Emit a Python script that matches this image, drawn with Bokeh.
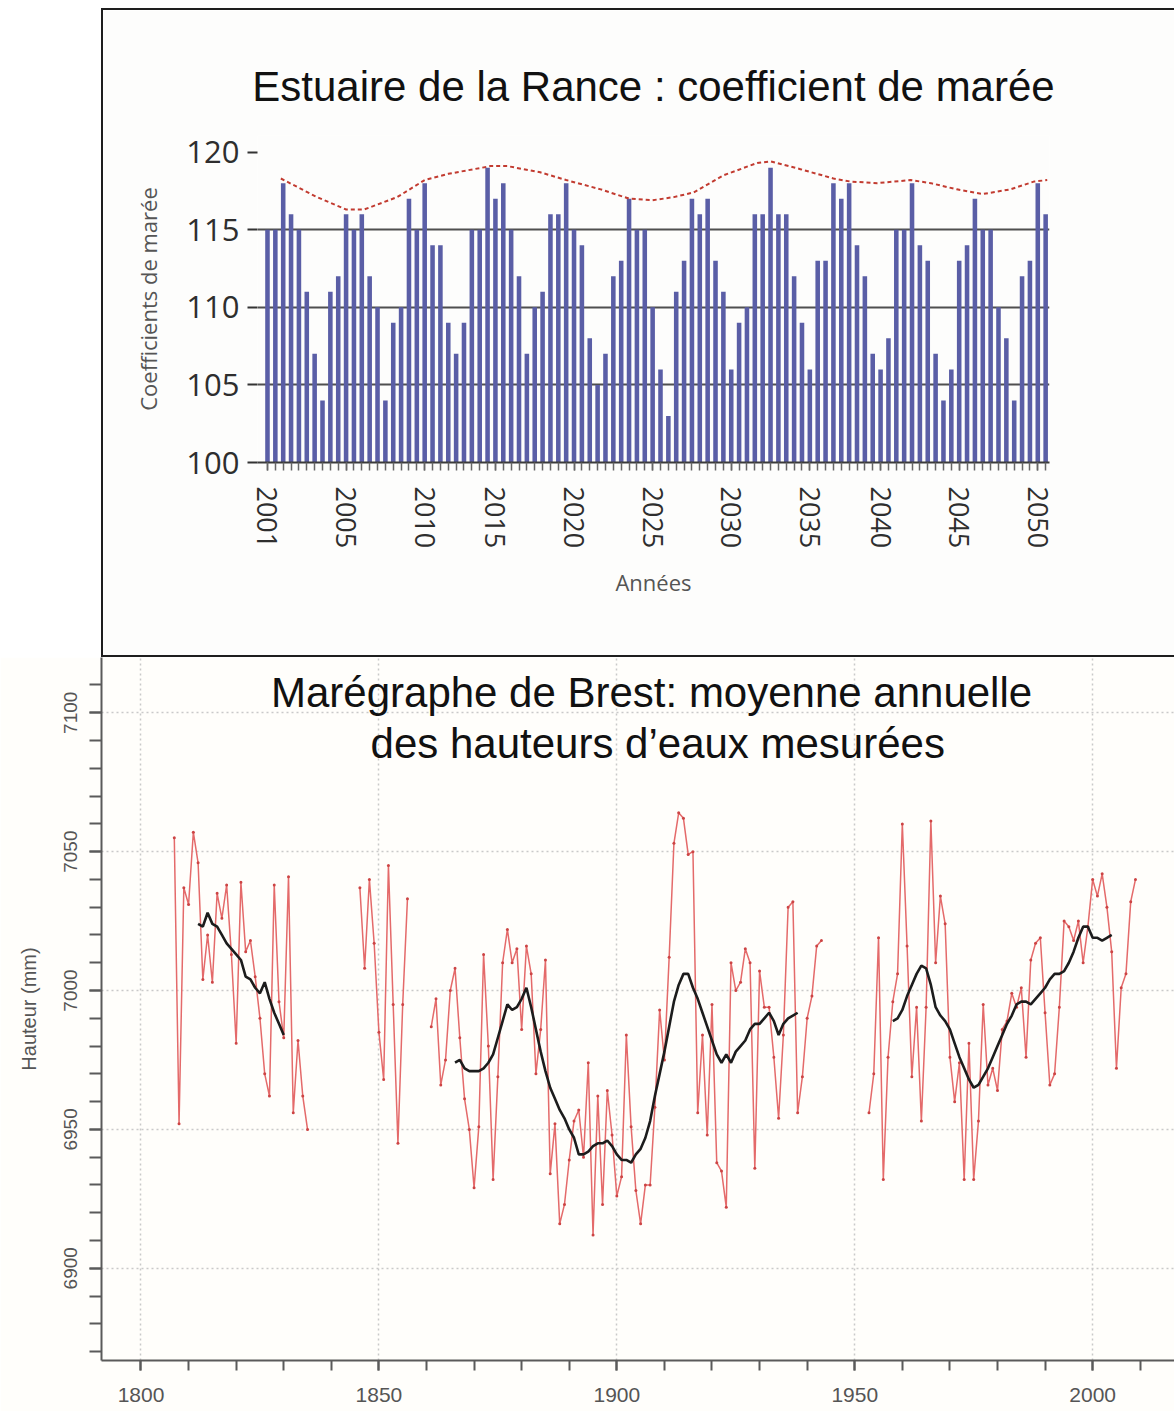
import numpy as np
from bokeh.plotting import figure
from bokeh.layouts import column, row
from bokeh.models import Range1d, FixedTicker, SingleIntervalTicker, Label, Spacer, Title
from bokeh.embed import file_html
from bokeh.resources import INLINE

# ---------------------------------------------------------------------------
# Estuaire de la Rance: the two highest tide coefficients of each year
# ---------------------------------------------------------------------------
coef = [115, 115, 118, 116, 115, 111, 107, 104, 111, 112,
        116, 115, 116, 112, 110, 104, 109, 110, 117, 115,
        118, 114, 114, 109, 107, 109, 115, 115, 119, 117,
        118, 115, 112, 107, 110, 111, 116, 116, 118, 115,
        114, 108, 105, 107, 112, 113, 117, 115, 115, 110,
        106, 103, 111, 113, 117, 116, 117, 113, 111, 106,
        109, 110, 116, 116, 119, 116, 116, 112, 109, 106,
        113, 113, 118, 117, 118, 114, 112, 107, 106, 108,
        115, 115, 118, 114, 113, 107, 104, 106, 113, 114,
        117, 115, 115, 110, 108, 104, 112, 113, 118, 116]
year_labels = ["2001", "2005", "2010", "2015", "2020", "2025",
               "2030", "2035", "2040", "2045", "2050"]

# envelope of the yearly maxima (position counted in bars)
env_pos = [1.7, 6.3, 10.0, 12.3, 16.5, 20.0, 23.0, 28.4, 30.5, 34.7,
           38.0, 42.4, 46.0, 49.0, 51.7, 54.2, 58.0, 62.3, 64.0, 67.8,
           72.0, 74.2, 77.6, 81.8, 84.4, 87.7, 91.0, 94.5, 97.5, 99.2]
env_val = [118.3, 117.1, 116.3, 116.3, 117.1, 118.2, 118.6, 119.1, 119.1, 118.7,
           118.2, 117.6, 117.0, 116.9, 117.1, 117.4, 118.5, 119.3, 119.4, 118.9,
           118.3, 118.1, 118.0, 118.2, 118.0, 117.6, 117.3, 117.6, 118.1, 118.2]

# ---------------------------------------------------------------------------
# Brest tide gauge: annual mean water height (mm), by continuous record
# ---------------------------------------------------------------------------
mean_starts = [1807, 1846, 1861, 1953]
mean_1807 = [7055, 6952, 7037, 7031, 7057, 7046, 7004, 7020, 7003, 7035,
             7026, 7038, 7013, 6981, 7039, 7014, 7018, 7005, 6990, 6970,
             6962, 7038, 6996, 6983, 7041, 6956, 6982, 6962, 6950]
mean_1846 = [7037, 7008, 7040, 7017, 6985, 6968, 7045, 6995, 6945, 6995, 7033]
mean_1861 = [6987, 6997, 6966, 6975, 7000, 7008, 6983, 6961, 6950, 6929,
             6951, 7013, 6980, 6932, 6969, 7010, 7022, 7010, 7015, 6986,
             7016, 7006, 6970, 6986, 7011, 6934, 6952, 6916, 6923, 6939,
             6953, 6957, 6940, 6974, 6912, 6962, 6923, 6964, 6948, 6926,
             6933, 6984, 6951, 6928, 6916, 6930, 6930, 6958, 6993, 6975,
             7012, 7053, 7064,
             7062, 7049, 7050, 6956, 6984, 6948, 6995, 6938, 6935, 6922,
             7010, 7000, 7003, 7015, 7010, 6936, 7007, 6994, 6994, 6976,
             6954, 6984, 7030, 7032, 6956, 6969, 6990, 6998, 7016, 7018]
mean_1953 = [6956, 6970, 7019, 6932, 6976, 6996, 7006, 7060, 7016, 6969,
             6994, 6953, 6994, 7061, 7010, 7034, 7024, 6976, 6960, 6974,
             6932, 6981, 6932, 6953, 6995, 6966, 6972, 6964, 6986, 6989,
             6999, 6994, 7001, 6976, 7011, 7017, 7019, 6992, 6966, 6970,
             6994, 7025, 7023, 7018, 7025, 7010, 7023, 7040, 7034, 7042,
             7030, 7014, 6972, 7001, 7006, 7032, 7040]

# smoothed mean (running average)
smooth_starts = [1812, 1866, 1958]
smooth_1812 = [7024, 7023, 7028, 7024, 7023, 7020, 7017, 7015, 7013, 7011,
               7005, 7004, 7001, 6999, 7003, 6997, 6992, 6988, 6984]
smooth_1866 = [6974, 6975, 6972, 6971, 6971, 6971, 6972, 6974, 6977, 6983,
               6989, 6995, 6993, 6994, 6997, 7001, 6994, 6986, 6978, 6971,
               6965, 6961, 6957, 6954, 6950, 6947, 6941, 6941, 6942, 6944,
               6945, 6945, 6946, 6944, 6941, 6939, 6939, 6938, 6941, 6943,
               6947, 6953, 6962, 6970, 6978, 6987, 6996, 7002,
               7006, 7006, 7001, 6997, 6992, 6987, 6982, 6977, 6974, 6977,
               6974, 6978, 6980, 6982, 6986, 6988, 6988, 6990, 6992, 6989,
               6984, 6988, 6990, 6991, 6992]
smooth_1958 = [6989, 6990, 6993, 6998, 7002, 7006, 7009, 7008, 7002, 6994,
               6991, 6989, 6986, 6981, 6976, 6972, 6968, 6965, 6966, 6969,
               6972, 6976, 6980, 6984, 6988, 6991, 6995, 6996, 6996, 6995,
               6997, 6999, 7001, 7004, 7006, 7006, 7007, 7010, 7014, 7019,
               7023, 7023, 7019, 7019, 7018, 7019, 7020]


def with_gaps(starts, pieces):
    """Chain the records into one x/y pair, broken by NaN between them."""
    xs, ys = [], []
    for s, vals in zip(starts, pieces):
        xs += list(range(s, s + len(vals))) + [np.nan]
        ys += list(vals) + [np.nan]
    return np.array(xs, dtype=float), np.array(ys, dtype=float)


# ---------------------------------------------------------------------------
# Upper panel: bar chart of tide coefficients
# ---------------------------------------------------------------------------
BG = "#fdfdfc"
bar_pos = np.arange(len(coef))
label_idx = np.round(np.linspace(0, len(coef) - 2, len(year_labels))).astype(int)

p1 = figure(width=1071, height=645, output_backend="svg", toolbar_location=None,
            x_range=Range1d(-1.27, 99.49), y_range=Range1d(100, 121.07),
            min_border_left=154, min_border_right=125, min_border_top=125,
            min_border_bottom=193, background_fill_color=BG, border_fill_color=BG,
            outline_line_color=None)
p1.title = Title(text="Estuaire de la Rance : coefficient de marée", align="center",
                 text_font="Liberation Sans", text_font_size="42px",
                 text_font_style="normal", text_color="#111111",
                 standoff=51)

p1.vbar(x=bar_pos, bottom=100, top=coef, width=0.58,
        fill_color="#5a5ea6", line_color=None)
p1.line(env_pos, env_val, line_color="#c23b30", line_width=2, line_dash="4 3")

p1.xgrid.visible = False
p1.ygrid.ticker = FixedTicker(ticks=[105, 110, 115])
p1.ygrid.grid_line_color = "#4f4f4f"
p1.ygrid.grid_line_width = 2

xa = p1.xaxis[0]
xa.ticker = FixedTicker(ticks=[int(i) for i in label_idx], minor_ticks=[int(i) for i in bar_pos])
xa.major_label_overrides = {int(i): s for i, s in zip(label_idx, year_labels)}
xa.major_label_orientation = "vertical"
xa.axis_line_color = "#3a3a3a"
xa.axis_line_width = 2
xa.major_tick_in = 0
xa.major_tick_out = 8
xa.minor_tick_in = 0
xa.minor_tick_out = 8
xa.major_tick_line_color = "#666666"
xa.minor_tick_line_color = "#666666"
xa.major_tick_line_width = 1.5
xa.minor_tick_line_width = 1.5
xa.major_label_standoff = 16
xa.major_label_text_font = "Open Sans"
xa.major_label_text_font_size = "27px"
xa.major_label_text_color = "#2e2e2e"
xa.axis_label = "Années"
xa.axis_label_standoff = 16
xa.axis_label_text_font = "Open Sans"
xa.axis_label_text_font_size = "22px"
xa.axis_label_text_font_style = "normal"
xa.axis_label_text_color = "#555555"

ya = p1.yaxis[0]
ya.ticker = FixedTicker(ticks=[100, 105, 110, 115, 120])
ya.axis_line_color = None
ya.major_tick_in = 0
ya.major_tick_out = 10
ya.major_tick_line_color = "#333333"
ya.major_tick_line_width = 2
ya.minor_tick_line_color = None
ya.major_label_standoff = 8
ya.major_label_text_font = "Open Sans"
ya.major_label_text_font_size = "31px"
ya.major_label_text_color = "#2e2e2e"
ya.axis_label = "Coefficients de marée"
ya.axis_label_standoff = 20
ya.axis_label_text_font = "Open Sans"
ya.axis_label_text_font_size = "22px"
ya.axis_label_text_font_style = "normal"
ya.axis_label_text_color = "#555555"

# ---------------------------------------------------------------------------
# Lower panel: Brest annual mean water height
# ---------------------------------------------------------------------------
BG2 = "#fffefb"
mx, my = with_gaps(mean_starts, [mean_1807, mean_1846, mean_1861, mean_1953])
sx, sy = with_gaps(smooth_starts, [smooth_1812, smooth_1866, smooth_1958])

p2 = figure(width=1174, height=754, output_backend="svg", toolbar_location=None,
            x_range=Range1d(1791.7, 2017.2), y_range=Range1d(6866.8, 7119.9),
            min_border_left=101, min_border_right=0, min_border_top=0,
            min_border_bottom=51, background_fill_color=BG2, border_fill_color=BG2,
            outline_line_color=None)

p2.line(mx, my, line_color="#e46a6a", line_width=1.5)
ok = ~np.isnan(my)
p2.scatter(mx[ok], my[ok], size=3, fill_color="#cc4444", line_color=None)
p2.line(sx, sy, line_color="#1c1c1c", line_width=2.6)

for g in (p2.xgrid[0], p2.ygrid[0]):
    g.grid_line_color = "#c9c9c9"
    g.grid_line_width = 1.5
    g.grid_line_dash = "2 3"

for ax in (p2.xaxis[0], p2.yaxis[0]):
    ax.ticker = SingleIntervalTicker(interval=50, num_minor_ticks=5)
    ax.axis_line_color = "#5a5a5a"
    ax.axis_line_width = 2
    ax.major_tick_in = 0
    ax.minor_tick_in = 0
    ax.major_tick_line_color = "#5a5a5a"
    ax.minor_tick_line_color = "#5a5a5a"
    ax.major_tick_line_width = 2
    ax.minor_tick_line_width = 2
    ax.major_label_text_font = "Liberation Sans"
    ax.major_label_text_color = "#555555"

xb = p2.xaxis[0]
xb.major_tick_out = 10
xb.minor_tick_out = 10
xb.major_label_standoff = 17
xb.major_label_text_font_size = "21px"

yb = p2.yaxis[0]
yb.major_tick_out = 12
yb.minor_tick_out = 12
yb.major_label_orientation = "vertical"
yb.major_label_standoff = 12
yb.major_label_text_font_size = "19px"
yb.axis_label = "Hauteur (mm)"
yb.axis_label_standoff = 22
yb.axis_label_text_font = "Liberation Sans"
yb.axis_label_text_font_size = "20px"
yb.axis_label_text_font_style = "normal"
yb.axis_label_text_color = "#555555"

for yy, xx, txt in ((7107.2, 1907.3, "Marégraphe de Brest: moyenne annuelle"),
                    (7089.0, 1908.6, "des hauteurs d’eaux mesurées")):
    p2.add_layout(Label(x=xx, y=yy, text=txt, text_align="center",
                        text_baseline="middle", text_font="Liberation Sans",
                        text_font_size="42px", text_color="#111111"))

# ---------------------------------------------------------------------------
# Page: framed upper panel above the lower one
# ---------------------------------------------------------------------------
INK = {"background-color": "#1e1e1e"}
frame_top = Spacer(width=1071, height=2, styles=INK)
frame_bottom = Spacer(width=1071, height=2, styles=INK)
frame_left = Spacer(width=2, height=649, styles=INK)

upper = row(Spacer(width=101, height=649, styles={"background-color": "#ffffff"}),
            frame_left, column(frame_top, p1, frame_bottom))
page = column(Spacer(width=1174, height=8, styles={"background-color": "#ffffff"}),
              upper, p2)

with open("out.html", "w") as f:
    f.write(file_html(page, INLINE))
